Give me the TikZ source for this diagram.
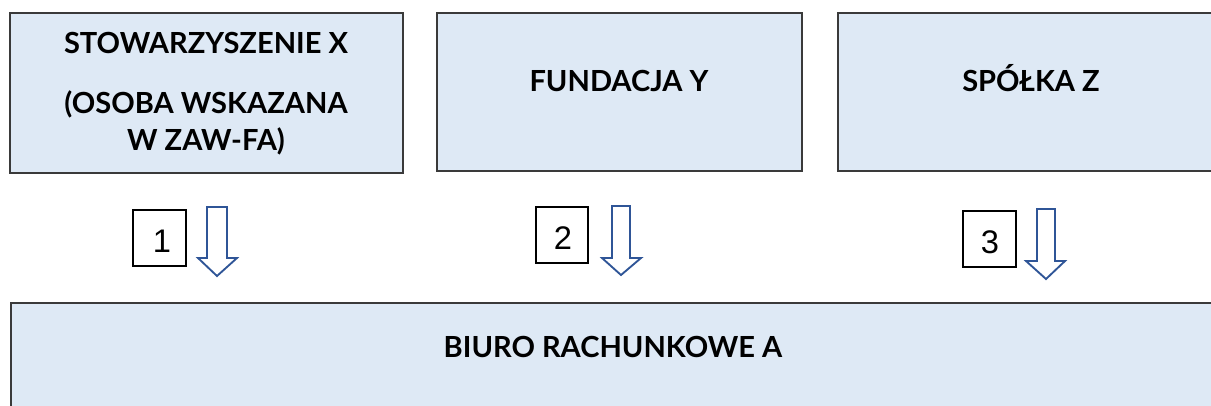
\documentclass[tikz,border=0pt]{standalone}
\usepackage{fontspec}
\setmainfont{Lato}
\newfontfamily\numfont{Liberation Sans}
\definecolor{boxfill}{HTML}{DEE9F5}
\definecolor{boxline}{HTML}{3A3A3A}
\definecolor{arrowblue}{HTML}{2F5597}
\begin{document}
\begin{tikzpicture}[x=0.75pt,y=-0.75pt,
  entity/.style={draw=boxline,fill=boxfill,line width=0.9pt},
  lbl/.style={anchor=base,inner sep=0pt,font=\fontsize{21.8}{26}\selectfont\bfseries},
  numbox/.style={draw=black,line width=0.9pt,fill=white,inner sep=0pt},
  numlbl/.style={anchor=base,inner sep=0pt,font=\fontsize{24.5}{28}\selectfont\numfont},
  blockarrow/.style={draw=arrowblue,fill=white,line width=1.4pt,line join=miter}]
\useasboundingbox (0,0) rectangle (1211,405);
\begin{scope}
\clip (0,0) rectangle (1211,405);
% main boxes
\draw[entity] (10,13) rectangle (403,173) coordinate (b1);
\draw[entity] (437,13) rectangle (802,171) coordinate (b2);
\draw[entity] (838,13) rectangle (1225,171) coordinate (b3);
\draw[entity] (11,303) rectangle (1215,420) coordinate (b4);
\end{scope}
% labels
\node[lbl] (t1a) at (206,53) {STOWARZYSZENIE X};
\node[lbl] (t1b) at (206,113) {(OSOBA WSKAZANA};
\node[lbl] (t1c) at (206,150) {W ZAW-FA)};
\node[lbl] (t2) at (619,91) {FUNDACJA Y};
\node[lbl] (t3) at (1031,91) {SPÓŁKA Z};
\node[lbl] (t4) at (613,357) {BIURO RACHUNKOWE A};
% number boxes
\draw[numbox] (133,210) rectangle (186,266);
\node[numlbl] (n1) at (162,252) {1};
\draw[numbox] (536,207) rectangle (588,263);
\node[numlbl] (n2) at (563,249) {2};
\draw[numbox] (963,211) rectangle (1016,267);
\node[numlbl] (n3) at (990,253) {3};
% block arrows
\draw[blockarrow] (207,207) -- (227,207) -- (227,258) -- (237,258) -- (217,276) -- (198,258) -- (207,258) -- cycle;
\draw[blockarrow] (612,206) -- (630,206) -- (630,258) -- (641,258) -- (621,275) -- (602,258) -- (612,258) -- cycle;
\draw[blockarrow] (1037,209) -- (1055,209) -- (1055,261) -- (1065,261) -- (1046,279) -- (1026,261) -- (1037,261) -- cycle;
\end{tikzpicture}
\end{document}
